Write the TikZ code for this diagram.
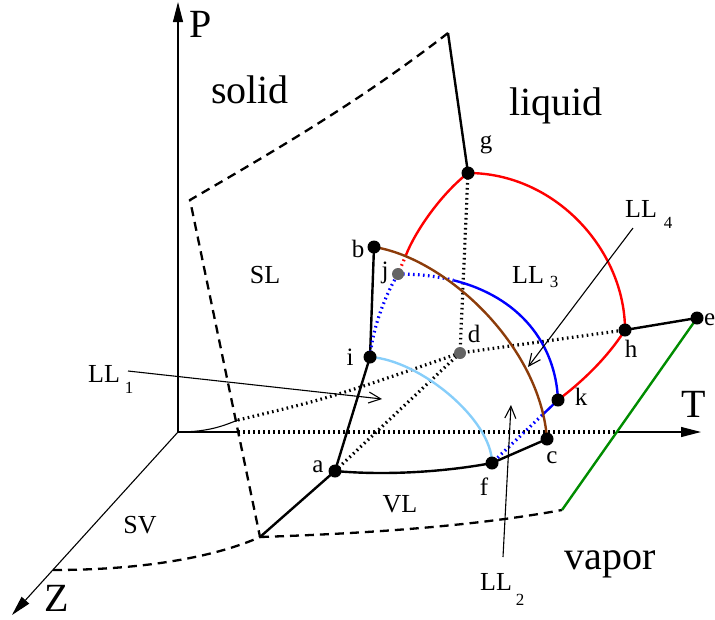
\documentclass[tikz,border=0pt]{standalone}
\usepackage{fontspec}
\setmainfont{Liberation Serif}
\newfontfamily\timesf{Liberation Serif}
\usetikzlibrary{arrows.meta,calc}
\definecolor{brownc}{RGB}{140,60,10}
\definecolor{lblue}{RGB}{135,206,250}
\definecolor{dgreen}{RGB}{0,140,0}
\definecolor{dotgray}{RGB}{100,100,100}
\begin{document}
\begin{tikzpicture}[x=1pt,y=-1pt,
  thinline/.style={line width=1.1pt},
  thickline/.style={line width=2.4pt},
  dotline/.style={line width=3.2pt,dash pattern=on 1.6pt off 3.4pt},
  dashline/.style={line width=2.3pt,dash pattern=on 9pt off 6pt},
  axisarrow/.style={thinline,-{Triangle[length=20pt,width=10pt]}},
  llarrow/.style={thinline,-{Straight Barb[length=12pt,width=11pt]}},
  blackdot/.style={circle,fill=black,inner sep=0pt,minimum size=13pt},
  graydot/.style={circle,fill=dotgray,inner sep=0pt,minimum size=12pt},
  bigtxt/.style={font=\timesf\fontsize{40}{44}\selectfont,anchor=base,inner sep=0pt},
  midtxt/.style={font=\timesf\fontsize{26}{30}\selectfont,anchor=base,inner sep=0pt},
  ptxt/.style={font=\timesf\fontsize{25}{29}\selectfont,anchor=base,inner sep=0pt},
  subtxt/.style={font=\timesf\fontsize{17}{20}\selectfont,anchor=base,inner sep=0pt}]
\useasboundingbox (0,0) rectangle (715,619);
% coordinates
\coordinate (O) at (178,432);
\coordinate (Ptip) at (178,2);
\coordinate (Ttip) at (701,432);
\coordinate (Ztip) at (12,615);
\coordinate (Tin) at (238,432);
\coordinate (Tout) at (617,432);
\coordinate (top) at (448,33);
\coordinate (sl) at (190,200);
\coordinate (bot) at (260,537);
\coordinate (zl) at (53,570);
\coordinate (vr) at (562,510);
\coordinate (cz) at (238,420);
\coordinate (a) at (335,471);
\coordinate (b) at (374,247);
\coordinate (c) at (547,439);
\coordinate (d) at (460,353);
\coordinate (e) at (697,318);
\coordinate (f) at (492,463);
\coordinate (g) at (468,173);
\coordinate (h) at (625,330);
\coordinate (i) at (370,357);
\coordinate (j) at (398,274);
\coordinate (k) at (558,400);
\coordinate (rb) at (406,255);
\coordinate (bb) at (453.5,280.3);
\coordinate (kb) at ($(k)!0.24!(f)$);
\coordinate (ll1s) at (128,371);
\coordinate (ll1t) at (382,399);
\coordinate (ll2s) at (503,557);
\coordinate (ll2t) at (511,405);
\coordinate (ll4s) at (633,228);
\coordinate (ll4t) at (528,367);
% axes
\draw[axisarrow] (O) -- (Ptip);
\draw[thinline] (O) -- (Tin);
\draw[dotline] (Tin) -- (Tout);
\draw[axisarrow] (Tout) -- (Ttip);
\draw[axisarrow] (O) -- (Ztip);
\draw[thinline] (O) .. controls (210,432) and (225,425) .. (cz);
\draw[dotline] (cz) .. controls (330,398) .. (d) -- (h);
\draw[dotline] (a) -- (d);
\draw[dotline] (g) -- (d);
% dashed surface boundaries
\draw[dashline] (top) .. controls (362,100) and (276,150) .. (sl) -- (bot);
\draw[dashline] (zl) .. controls (150,570) and (220,555) .. (bot);
\draw[dashline] (bot) .. controls (380,533) and (480,525) .. (vr);
% black lines
\draw[thickline] (top) -- (g);
\draw[thickline] (bot) -- (a) -- (i) -- (b);
\draw[thickline] (a) .. controls (390,476) and (450,471) .. (f) -- (c);
\draw[thickline] (h) -- (e);
\draw[thickline,dgreen] (vr) -- (e);
% red
\draw[thickline,red] (rb) .. controls (415,232) and (440,195) .. (g);
\draw[dotline,red] (rb) -- (j);
\draw[thickline,red] (g) .. controls (555,173) and (625,250) .. (h);
\draw[thickline,red] (h) .. controls (607,358) and (583,381) .. (k);
% blue
\draw[dotline,blue] (i) .. controls (373,325) and (387,292) .. (j);
\draw[dotline,blue] (j) .. controls (418.4,274) and (436.9,276.2) .. (bb);
\draw[thickline,blue] (bb) .. controls (519.9,296.9) and (555.6,344) .. (k);
\draw[thickline,blue] (k) -- (kb);
\draw[dotline,blue] (kb) -- (f);
% light blue
\draw[thickline,lblue] (i) .. controls (420,360) and (492,420) .. (f);
% brown
\draw[thickline,brownc] (b) .. controls (445,258) and (540,345) .. (c);
% LL arrows
\draw[llarrow] (ll1s) -- (ll1t);
\draw[llarrow] (ll2s) -- (ll2t);
\draw[llarrow] (ll4s) -- (ll4t);
% dots
\foreach \p in {a,b,c,e,f,g,h,i,k} \node[blackdot] (n\p) at (\p) {};
\foreach \p in {d,j} \node[graydot] (n\p) at (\p) {};
% big labels
\node[bigtxt] (lP) at (201,37) {P};
\node[bigtxt] (lT) at (694,417) {T};
\node[bigtxt] (lZ) at (57,611) {Z};
\node[bigtxt] (lsolid) at (250,103) {solid};
\node[bigtxt] (lliquid) at (556,115) {liquid};
\node[bigtxt] (lvapor) at (610,569) {vapor};
% region labels
\node[midtxt] (lSL) at (265,283) {SL};
\node[midtxt] (lSV) at (140,533) {SV};
\node[midtxt] (lVL) at (400,512) {VL};
\node[midtxt,anchor=base west] (lLL1) at (88,382) {LL};
\node[subtxt] (sLL1) at (129,393) {1};
\node[midtxt,anchor=base west] (lLL2) at (480,590) {LL};
\node[subtxt] (sLL2) at (520,605) {2};
\node[midtxt,anchor=base west] (lLL3) at (512,283) {LL};
\node[subtxt] (sLL3) at (554,287) {3};
\node[midtxt,anchor=base west] (lLL4) at (625,217) {LL};
\node[subtxt] (sLL4) at (668,228) {4};
% point labels
\node[ptxt] (tg) at (486,148) {g};
\node[ptxt] (tb) at (358,257) {b};
\node[ptxt] (tj) at (385,278) {j};
\node[ptxt] (ti) at (350,365) {i};
\node[ptxt] (td) at (474,342) {d};
\node[ptxt] (ta) at (318,472) {a};
\node[ptxt] (tf) at (484,495) {f};
\node[ptxt] (tc) at (552,463) {c};
\node[ptxt] (tk) at (581,405) {k};
\node[ptxt] (th) at (631,357) {h};
\node[ptxt,anchor=base west] (te) at (704,325) {e};
\end{tikzpicture}
\end{document}
